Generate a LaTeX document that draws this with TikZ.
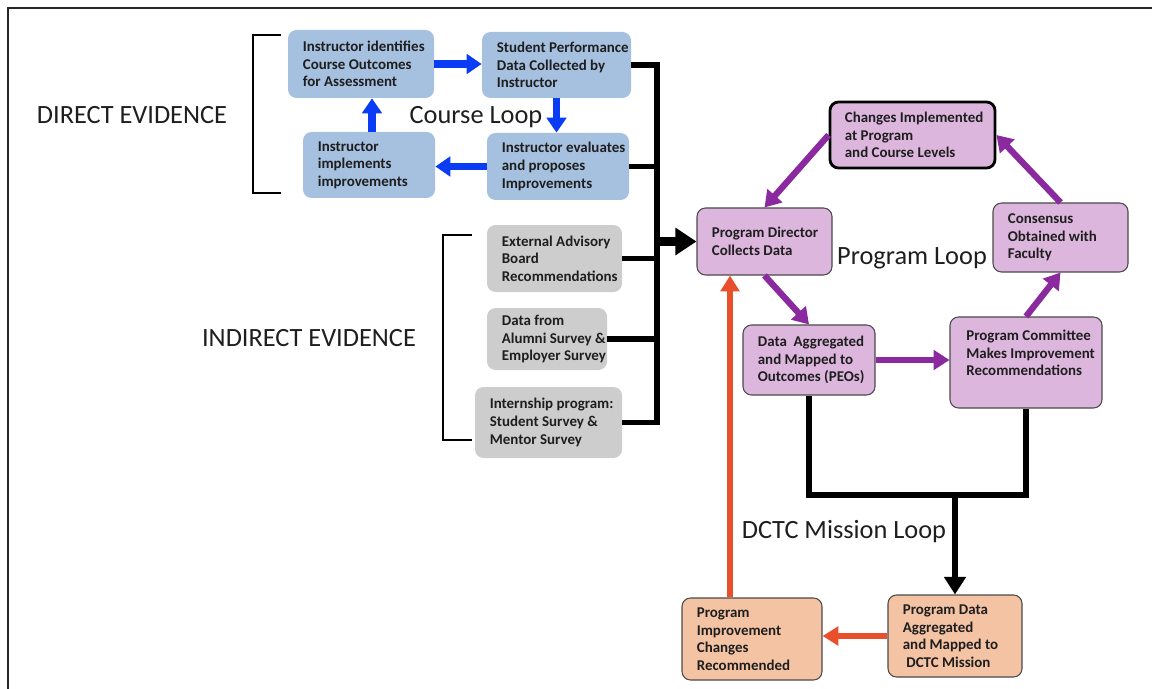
\documentclass[tikz,border=0pt]{standalone}
\usepackage{fontspec}
\setmainfont{Carlito}
\usetikzlibrary{arrows.meta}
\definecolor{boxblue}{HTML}{A6C0E0}
\definecolor{boxgray}{HTML}{CDCDCD}
\definecolor{boxpurple}{HTML}{DDB6DE}
\definecolor{boxorange}{HTML}{F4C3A4}
\definecolor{edgegray}{HTML}{4A4A4A}
\definecolor{arblue}{HTML}{0A3CF5}
\definecolor{arpurple}{HTML}{8B2A9F}
\definecolor{arorange}{HTML}{EA4F2B}
\definecolor{ink}{HTML}{1E1E1E}

% box geometry: name, style, x1, y1, x2, y2, text (pixel grid, y downwards)
\newcommand\drawbox[7]{%
  \node[#2, minimum width={(#5-#3)*0.02cm}, minimum height={(#6-#4)*0.02cm}]
    (#1) at ({(#3+#5)/2},{(#4+#6)/2}) {};
  \node[boxtext, anchor=west] (#1-t) at ({#3+14.5},{(#4+#6)/2}) {#7};
}

\begin{document}
\begin{tikzpicture}[x=0.02cm, y=-0.02cm,
  box/.style={rectangle, rounded corners=0.17cm, inner sep=0pt},
  bluebox/.style={box, fill=boxblue},
  graybox/.style={box, fill=boxgray},
  purplebox/.style={box, fill=boxpurple, draw=edgegray, line width=0.6pt},
  keybox/.style={box, fill=boxpurple, draw=black, line width=1.6pt},
  orangebox/.style={box, fill=boxorange, draw=edgegray, line width=0.6pt},
  boxtext/.style={inner sep=0pt, align=left, text=ink,
    font=\fontsize{8.5}{10}\selectfont\bfseries},
  looplabel/.style={inner sep=0pt, text=ink, font=\fontsize{15}{18}\selectfont},
  bluearrow/.style={draw=arblue, line width=4pt, -{Triangle[length=8.5pt,width=11pt]}},
  purplearrow/.style={draw=arpurple, line width=3.6pt, -{Triangle[length=9pt,width=11pt]}},
  orangearrow/.style={draw=arorange, line width=3.4pt, -{Triangle[length=9pt,width=10.5pt]}},
  conn/.style={draw=black, line width=3.4pt},
  blackarrow/.style={conn, -{Triangle[length=10pt,width=12pt]}},
  fatarrow/.style={draw=black, line width=5pt, -{Triangle[length=12pt,width=15pt]}},
  bracket/.style={draw=black, line width=1.1pt},
]
\useasboundingbox (0,0) rectangle (1152,689);

% frame
\draw[line width=1.3pt, draw=black!85] (8,689) -- (8,8) -- (1152,8);

% course loop
\drawbox{B1}{bluebox}{288}{30}{434}{98}{Instructor identifies\\Course Outcomes\\for Assessment}
\drawbox{B2}{bluebox}{482}{32}{631}{98}{Student Performance\\Data Collected by\\Instructor}
\drawbox{B3}{bluebox}{487}{133}{629}{200}{Instructor evaluates\\and proposes\\Improvements}
\drawbox{B4}{bluebox}{303}{132}{435}{198}{Instructor\\implements\\improvements}

\draw[bluearrow] (B1.east) -- (B2.west |- B1.east);
\draw[bluearrow] (B2.south) -- (B2.south |- B3.north);
\draw[bluearrow] (B3.west) -- (B4.east |- B3.west);
\coordinate (upx) at (372,0);
\draw[bluearrow] (B4.north -| upx) -- (B1.south -| upx);

\node[looplabel] (courseloop) at (476,117) {Course Loop};

% indirect evidence
\drawbox{G1}{graybox}{487}{225}{622}{292}{External Advisory\\Board\\Recommendations}
\drawbox{G2}{graybox}{487}{308}{607}{370}{Data from\\Alumni Survey \&\\Employer Survey}
\drawbox{G3}{graybox}{475}{387}{622}{458}{Internship program:\\Student Survey \&\\Mentor Survey}

% evidence labels and brackets
\node[looplabel] (direct) at (132,115) {DIRECT EVIDENCE};
\node[looplabel] (indirect) at (309,338) {INDIRECT EVIDENCE};
\draw[bracket] (281,35) -- (253,35) -- (253,193) -- (281,193);
\draw[bracket] (472,235) -- (443,235) -- (443,440) -- (472,440);

% program loop
\drawbox{P1}{purplebox}{697}{208}{832}{275}{Program Director\\Collects Data}
\drawbox{PC}{keybox}{830}{102}{995}{168}{Changes Implemented\\at Program\\and Course Levels}
\drawbox{P3}{purplebox}{993}{203}{1128}{272}{Consensus\\Obtained with\\Faculty}
\drawbox{P4}{purplebox}{743}{325}{875}{395}{Data~~Aggregated\\and Mapped to\\Outcomes (PEOs)}
\node[purplebox, minimum width={152*0.02cm}, minimum height={91*0.02cm}]
  (P5) at (1026,362.5) {};
\node[boxtext, anchor=west] (P5-t) at (966,353) {Program Committee\\Makes Improvement\\Recommendations};

\node[looplabel] (programloop) at (912,258) {Program Loop};

% evidence trunk feeding the program director
\coordinate (trunk) at (657,0);
\draw[conn] (B2.east) -- (B2.east -| trunk) -- (G3.east -| trunk) -- (G3.east);
\draw[conn] (B3.east) -- (B3.east -| trunk);
\draw[conn] (G1.east) -- (G1.east -| trunk);
\draw[conn] (G2.east) -- (G2.east -| trunk);
\draw[fatarrow] (P1.west -| trunk) -- (P1.west);

\draw[purplearrow] (PC.west) -- (P1.north);
\draw[purplearrow] (P1.south) -- (P4.north);
\draw[purplearrow] (P4.east) -- (P5.west |- P4.east);
\draw[purplearrow] (P5.north) -- (P3.south);
\draw[purplearrow] (P3.north) -- (PC.east);

% DCTC mission loop
\drawbox{O1}{orangebox}{888}{595}{1022}{677}{Program Data\\Aggregated\\and Mapped to\\\hspace{2pt}DCTC Mission}
\drawbox{O2}{orangebox}{682}{598}{822}{680}{Program\\Improvement\\Changes\\Recommended}

\coordinate (merge) at (955,495);
\draw[conn, line join=miter] (P4.south) |- (merge) -| (P5.south);
\draw[blackarrow] (merge) -- (O1.north);

\node[looplabel] (missionloop) at (844,532) {DCTC Mission Loop};

\draw[orangearrow] (O1.west) -- (O2.east |- O1.west);
\coordinate (retx) at (730,0);
\draw[orangearrow, line width=3pt] (O2.north -| retx) -- (P1.south -| retx);
\end{tikzpicture}
\end{document}
